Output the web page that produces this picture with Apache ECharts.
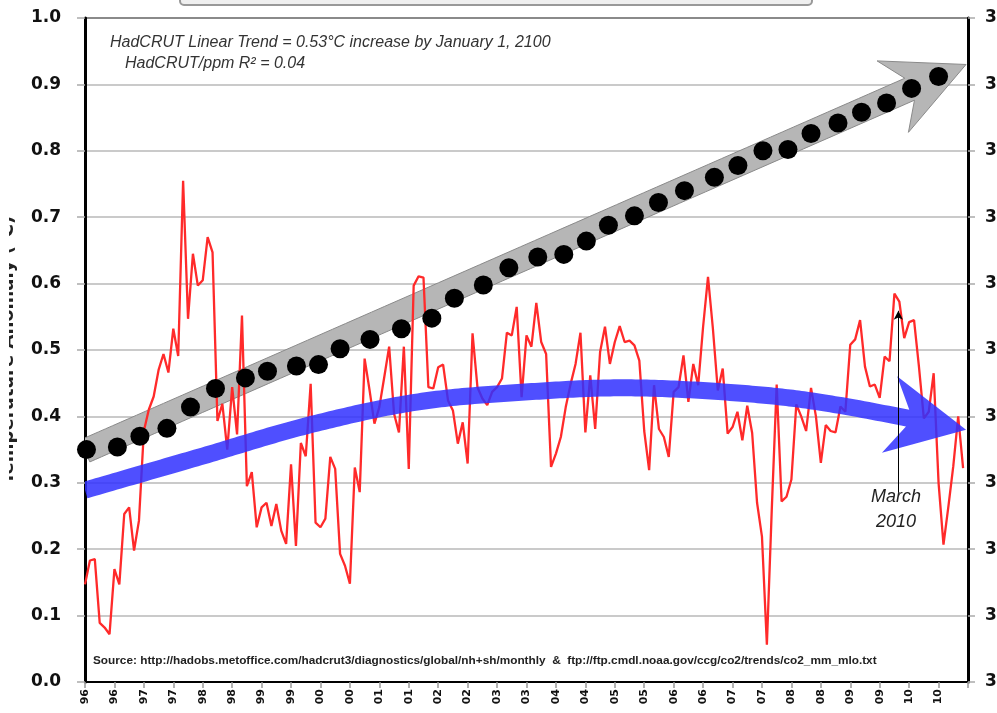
<!DOCTYPE html>
<html><head><meta charset="utf-8">
<script src="https://cdn.jsdelivr.net/npm/echarts@6/dist/echarts.min.js"></script>
<style>html,body{margin:0;padding:0;background:#fff}#c{width:997px;height:713px}</style>
</head><body><div id="c"></div>
<script>
// x axis: months since June 1996 (0 = Jun 1996), tick every 6 months
const xTickLabels = ['96','96','97','97','98','98','99','99','00','00','01','01','02','02','03','03',
  '04','04','05','05','06','06','07','07','08','08','09','09','10','10'];

// HadCRUT monthly anomaly (°C), Jun 1996 .. May 2011
const redValues = [
  0.147,0.183,0.185,0.089,0.082,0.072,0.170,0.147,0.253,0.263,0.198,0.243,
  0.378,0.410,0.430,0.470,0.494,0.466,0.532,0.491,0.755,0.547,0.645,0.597,
  0.605,0.670,0.647,0.393,0.419,0.350,0.444,0.373,0.552,0.295,0.316,0.233,
  0.263,0.270,0.235,0.268,0.228,0.208,0.328,0.205,0.360,0.340,0.449,0.240,
  0.233,0.246,0.339,0.321,0.193,0.175,0.148,0.323,0.286,0.487,0.440,0.389,
  0.414,0.459,0.505,0.404,0.376,0.505,0.321,0.597,0.611,0.609,0.444,0.442,
  0.474,0.478,0.424,0.409,0.359,0.391,0.329,0.525,0.444,0.427,0.417,0.437,
  0.444,0.457,0.526,0.522,0.565,0.429,0.522,0.505,0.571,0.512,0.494,0.324,
  0.344,0.369,0.414,0.449,0.479,0.526,0.376,0.462,0.381,0.497,0.535,0.479,
  0.512,0.536,0.512,0.514,0.507,0.484,0.378,0.319,0.447,0.381,0.369,0.339,
  0.437,0.444,0.492,0.422,0.479,0.447,0.535,0.610,0.532,0.439,0.472,0.374,
  0.384,0.407,0.364,0.416,0.375,0.270,0.219,0.056,0.260,0.448,0.272,0.279,
  0.305,0.418,0.400,0.378,0.443,0.400,0.330,0.387,0.378,0.376,0.415,0.407,
  0.508,0.516,0.545,0.475,0.445,0.448,0.428,0.490,0.483,0.585,0.573,0.518,
  0.542,0.545,0.475,0.397,0.407,0.465,0.300,0.207,0.264,0.325,0.400,0.322
];

// CO2 (ppm, right axis) dots
const co2Months = [0.3,6.6,11.2,16.7,21.5,26.6,32.7,37.2,43.1,47.6,52.0,58.1,64.5,70.7,75.3,81.2,86.4,
  92.3,97.6,102.2,106.7,112.0,116.9,122.2,128.3,133.1,138.2,143.3,148.0,153.5,158.3,163.4,168.5,174.0];
const co2Ppm = [362.5,362.7,363.5,364.1,365.7,367.1,367.9,368.4,368.8,368.9,370.1,370.8,371.6,372.4,373.9,374.9,376.2,
  377.0,377.2,378.2,379.4,380.1,381.1,382.0,383.0,383.9,385.0,385.1,386.3,387.1,387.9,388.6,389.7,390.6];

// CO2 linear trend arrow (right axis)
const grayTrendMonths = [0, 179.6];
const grayTrendPpm = [362.4, 391.5];

// HadCRUT polynomial trend arrow (left axis)
const blueTrendMonths = [0, 23.4, 45.7, 68, 90.4, 111.4, 135.2, 153.5, 179.6];
const blueTrendValues = [0.289, 0.339, 0.387, 0.422, 0.437, 0.443, 0.434, 0.417, 0.380];

// "March 2010" annotation
const marchMonth = 165.8;
const marchRange = [0.286, 0.559];

const chart = echarts.init(document.getElementById('c'));

function catmull(P, n) {
  const out = [];
  for (let i = 0; i < P.length - 1; i++) {
    const p0 = P[Math.max(i - 1, 0)], p1 = P[i], p2 = P[i + 1], p3 = P[Math.min(i + 2, P.length - 1)];
    for (let s = 0; s < n; s++) {
      const t = s / n, t2 = t * t, t3 = t2 * t;
      const f = d => 0.5 * ((2 * p1[d]) + (-p0[d] + p2[d]) * t + (2 * p0[d] - 5 * p1[d] + 4 * p2[d] - p3[d]) * t2 + (-p0[d] + 3 * p1[d] - 3 * p2[d] + p3[d]) * t3);
      out.push([f(0), f(1)]);
    }
  }
  out.push(P[P.length - 1]);
  return out;
}

function arrowPolygon(pts, halfW, headLen, headHalf, notch) {
  const tip = pts[pts.length - 1];
  const cut = headLen - notch;
  let k = pts.length - 1;
  while (k > 0 && Math.hypot(tip[0] - pts[k][0], tip[1] - pts[k][1]) < cut) k--;
  const shaft = pts.slice(0, k + 1);
  const S = shaft[shaft.length - 1];
  let ux = tip[0] - S[0], uy = tip[1] - S[1];
  const L = Math.hypot(ux, uy); ux /= L; uy /= L;
  const nx = -uy, ny = ux;
  const up = [], lo = [];
  shaft.forEach((p, i) => {
    let tx, ty;
    if (i === shaft.length - 1) { tx = ux; ty = uy; }
    else {
      const a = shaft[Math.max(i - 1, 0)], b = shaft[Math.min(i + 1, shaft.length - 1)];
      tx = b[0] - a[0]; ty = b[1] - a[1];
      const l = Math.hypot(tx, ty) || 1; tx /= l; ty /= l;
    }
    up.push([p[0] - ty * halfW, p[1] + tx * halfW]);
    lo.push([p[0] + ty * halfW, p[1] - tx * halfW]);
  });
  const bx = tip[0] - ux * headLen, by = tip[1] - uy * headLen;
  return up.concat([[bx + nx * headHalf, by + ny * headHalf], tip, [bx - nx * headHalf, by - ny * headHalf]]).concat(lo.reverse());
}

const boldFont = 'DejaVu Sans';

chart.setOption({
  animation: false,
  backgroundColor: '#fff',
  grid: { left: 85, right: 29, top: 18, bottom: 31, show: true, borderColor: '#000', borderWidth: 2, outerBoundsMode: 'none' },
  xAxis: {
    type: 'value', min: 0, max: 180, interval: 6,
    axisLine: { show: true, lineStyle: { color: '#000', width: 2 } },
    axisTick: { show: true, length: 6, lineStyle: { color: '#999', width: 1.5 } },
    splitLine: { show: false },
    axisLabel: {
      rotate: 90, margin: 7, fontFamily: boldFont, fontWeight: 'bold', fontSize: 11, color: '#111',
      formatter: v => (v / 6 < xTickLabels.length ? xTickLabels[Math.round(v / 6)] : '')
    }
  },
  yAxis: [
    {
      type: 'value', min: 0, max: 1, interval: 0.1, position: 'left',
      name: 'Temperature Anomaly (°C)', nameLocation: 'middle', nameGap: 68,
      nameTextStyle: { fontFamily: boldFont, fontWeight: 'bold', fontSize: 18, color: '#222' },
      axisLine: { show: true, lineStyle: { color: '#000', width: 3 } },
      axisTick: { show: true, length: 8, lineStyle: { color: '#aaa', width: 1.5 } },
      splitLine: { show: true, lineStyle: { color: '#b8b8b8', width: 1.5 } },
      axisLabel: { margin: 24, fontFamily: boldFont, fontWeight: 'bold', fontSize: 17, color: '#111', formatter: v => v.toFixed(1) }
    },
    {
      type: 'value', min: 345, max: 395, interval: 5, position: 'right',
      axisLine: { show: true, lineStyle: { color: '#000', width: 3 } },
      axisTick: { show: true, length: 7, lineStyle: { color: '#aaa', width: 1.5 } },
      splitLine: { show: false },
      axisLabel: { margin: 17, fontFamily: boldFont, fontWeight: 'bold', fontSize: 17, color: '#111' }
    }
  ],
  series: [
    {
      name: 'CO2 trend', type: 'custom', yAxisIndex: 1, clip: true, z: 2, silent: true,
      data: [0],
      renderItem: (params, api) => {
        const ctrl = grayTrendMonths.map((m, i) => api.coord([m, grayTrendPpm[i]]));
        const pts = catmull(ctrl, 80);
        return { type: 'polygon', shape: { points: arrowPolygon(pts, 12, 80, 39, 20) },
          style: { fill: '#b6b6b6', stroke: '#8a8a8a', lineWidth: 1 } };
      }
    },
    {
      name: 'HadCRUT', type: 'line', yAxisIndex: 0, z: 3, symbol: 'none', silent: true,
      data: redValues.map((v, i) => [i, v]),
      lineStyle: { color: '#ff2a2a', width: 2.3 }
    },
    {
      name: 'HadCRUT trend', type: 'custom', yAxisIndex: 0, clip: true, z: 4, silent: true,
      data: [0],
      renderItem: (params, api) => {
        const ctrl = blueTrendMonths.map((m, i) => api.coord([m, blueTrendValues[i]]));
        const pts = catmull(ctrl, 30);
        return { type: 'polygon', shape: { points: arrowPolygon(pts, 8.5, 78, 39, 20) },
          style: { fill: 'rgba(48,48,255,0.85)' } };
      }
    },
    {
      name: 'CO2', type: 'scatter', yAxisIndex: 1, z: 5, silent: true,
      symbol: 'circle', symbolSize: 19,
      itemStyle: { color: '#000', opacity: 1 },
      data: co2Months.map((m, i) => [m, co2Ppm[i]])
    },
    {
      name: 'annotation', type: 'line', yAxisIndex: 0, z: 6, data: [], silent: true,
      markLine: {
        silent: true, animation: false,
        symbol: ['none', 'arrow'], symbolSize: [7, 9],
        label: { show: false },
        lineStyle: { color: '#000', width: 1, type: 'solid' },
        data: [[{ coord: [marchMonth, marchRange[0]] }, { coord: [marchMonth, marchRange[1]] }]]
      }
    }
  ],
  graphic: [
    { type: 'rect', shape: { x: 180, y: -30, width: 632, height: 35, r: 4 },
      style: { fill: '#efefef', stroke: '#999', lineWidth: 2 }, z: 10 },
    { type: 'rect', shape: { x: 0, y: 150, width: 9, height: 400 },
      style: { fill: '#fff' }, z: 100, silent: true },
    { type: 'text', left: 110, top: 35, z: 10,
      style: { text: 'HadCRUT Linear Trend = 0.53°C increase by January 1, 2100', font: 'italic 16px "Liberation Sans"', fill: '#333' } },
    { type: 'text', left: 125, top: 56, z: 10,
      style: { text: 'HadCRUT/ppm R² = 0.04', font: 'italic 16px "Liberation Sans"', fill: '#333' } },
    { type: 'text', left: 93, top: 655, z: 10,
      style: { text: 'Source: http://hadobs.metoffice.com/hadcrut3/diagnostics/global/nh+sh/monthly  &  ftp://ftp.cmdl.noaa.gov/ccg/co2/trends/co2_mm_mlo.txt',
        font: 'bold 11.8px "Liberation Sans"', fill: '#222' } },
    { type: 'text', x: 896, y: 509, z: 10,
      style: { text: 'March\n2010', font: 'italic 18px "Liberation Sans"', fill: '#222', align: 'center', verticalAlign: 'middle', lineHeight: 25 } }
  ]
});
</script></body></html>
